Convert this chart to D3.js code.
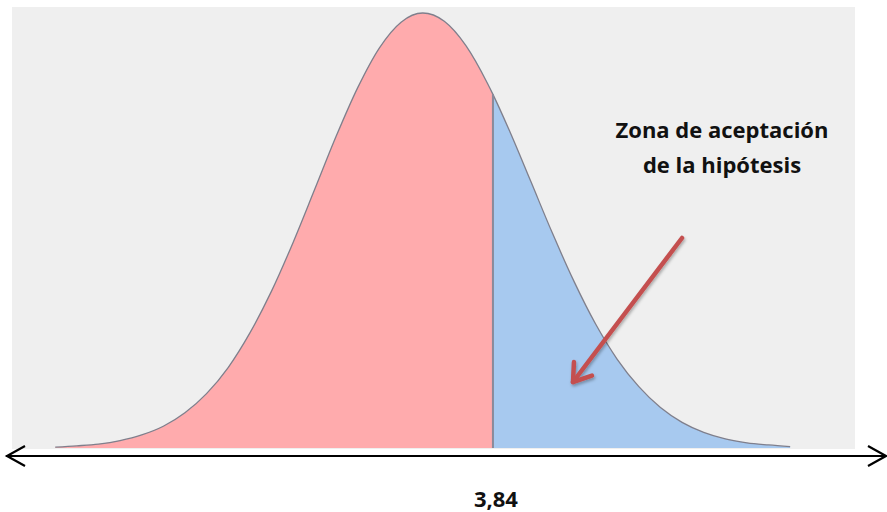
<!DOCTYPE html>
<html lang="es">
<head>
<meta charset="UTF-8">
<title>Zona de aceptación</title>
<script src="https://d3js.org/d3.v7.min.js"></script>
<style>
    body {
        margin: 0;
        background-color: #fff;
    }
    .note {
        font-family: "Open Sans", sans-serif;
        font-weight: bold;
        font-size: 22px;
        text-anchor: middle;
        fill: #111;
    }
</style>
</head>
<body>
<script>
    const width = 887;
    const height = 512;

    // curve: position (in sigma units) and relative height
    const curveX = [-3.4, -3.2, -3.0, -2.8, -2.6, -2.4, -2.2, -2.0, -1.8, -1.6, -1.4, -1.2,
                    -1.0, -0.8, -0.6, -0.4, -0.2, 0.0, 0.2, 0.4, 0.6, 0.65, 0.8, 1.0,
                    1.2, 1.4, 1.6, 1.8, 2.0, 2.2, 2.4, 2.6, 2.8, 3.0, 3.2, 3.4];
    const curveY = [0.002, 0.005, 0.009, 0.017, 0.030, 0.050, 0.081, 0.125, 0.185, 0.264, 0.360, 0.472,
                    0.594, 0.717, 0.829, 0.920, 0.979, 1.000, 0.981, 0.925, 0.838, 0.813, 0.731, 0.613,
                    0.494, 0.383, 0.285, 0.204, 0.141, 0.093, 0.059, 0.036, 0.021, 0.012, 0.007, 0.003];
    const critical = 0.65;
    const criticalLabel = "3,84";
    const noteLines = ["Zona de aceptación", "de la hipótesis"];

    const points = curveX.map((x, i) => ({ x: x, y: curveY[i] }));

    const svg = d3.select("body").append("svg")
        .attr("width", width)
        .attr("height", height);

    const x = d3.scaleLinear().domain([-3.8, 4.0]).range([12, 855]);
    const y = d3.scaleLinear().domain([0, 1]).range([448, 13]);

    // grey plot area
    svg.append("rect")
        .attr("x", x(-3.8))
        .attr("y", 7)
        .attr("width", x(4.0) - x(-3.8))
        .attr("height", 442)
        .attr("fill", "#efefef");

    const area = d3.area()
        .x(d => x(d.x))
        .y0(y(0))
        .y1(d => y(d.y))
        .curve(d3.curveMonotoneX);

    const line = d3.line()
        .x(d => x(d.x))
        .y(d => y(d.y))
        .curve(d3.curveMonotoneX);

    svg.append("path")
        .datum(points.filter(d => d.x <= critical))
        .attr("d", area)
        .attr("fill", "#ffabad");

    svg.append("path")
        .datum(points.filter(d => d.x >= critical))
        .attr("d", area)
        .attr("fill", "#a7c9ef");

    svg.append("path")
        .datum(points)
        .attr("d", line)
        .attr("fill", "none")
        .attr("stroke", "#7f7f8c")
        .attr("stroke-width", 1.3);

    const critY = curveY[curveX.indexOf(critical)];
    svg.append("line")
        .attr("x1", x(critical))
        .attr("x2", x(critical))
        .attr("y1", y(0))
        .attr("y2", y(critY))
        .attr("stroke", "#8a8a9a")
        .attr("stroke-width", 2);

    // double headed axis arrow
    const axisY = 456;
    const axis = svg.append("g")
        .attr("stroke", "#000")
        .attr("stroke-width", 2.2)
        .attr("fill", "none");
    axis.append("line")
        .attr("x1", 6).attr("x2", 885)
        .attr("y1", axisY).attr("y2", axisY);
    axis.append("path")
        .attr("d", `M25,${axisY - 10} L7,${axisY} L25,${axisY + 10}`);
    axis.append("path")
        .attr("d", `M868,${axisY - 10} L886,${axisY} L868,${axisY + 10}`);

    svg.append("text")
        .attr("class", "note")
        .attr("x", x(critical) + 3)
        .attr("y", 507)
        .text(criticalLabel);

    noteLines.forEach((t, i) => {
        svg.append("text")
            .attr("class", "note")
            .attr("x", 722)
            .attr("y", 138 + i * 35)
            .text(t);
    });

    // red pointer arrow
    const defs = svg.append("defs");
    const shadow = defs.append("filter").attr("id", "shadow")
        .attr("x", "-20%").attr("y", "-20%").attr("width", "140%").attr("height", "140%");
    shadow.append("feDropShadow")
        .attr("dx", 1).attr("dy", 2).attr("stdDeviation", 1.5)
        .attr("flood-color", "#000").attr("flood-opacity", 0.3);

    const start = [682, 238];
    const tip = [573, 382];
    const ang = Math.atan2(tip[1] - start[1], tip[0] - start[0]);
    const armLen = 20;
    const arm = a => [tip[0] - armLen * Math.cos(ang + a), tip[1] - armLen * Math.sin(ang + a)];
    const a1 = arm(0.6), a2 = arm(-0.6);

    const ptr = svg.append("g")
        .attr("stroke", "#c4504f")
        .attr("stroke-width", 4.5)
        .attr("stroke-linecap", "round")
        .attr("stroke-linejoin", "round")
        .attr("fill", "none")
        .attr("filter", "url(#shadow)");
    ptr.append("line")
        .attr("x1", start[0]).attr("y1", start[1])
        .attr("x2", tip[0]).attr("y2", tip[1]);
    ptr.append("path")
        .attr("d", `M${a1[0]},${a1[1]} L${tip[0]},${tip[1]} L${a2[0]},${a2[1]}`);
</script>
</body>
</html>
